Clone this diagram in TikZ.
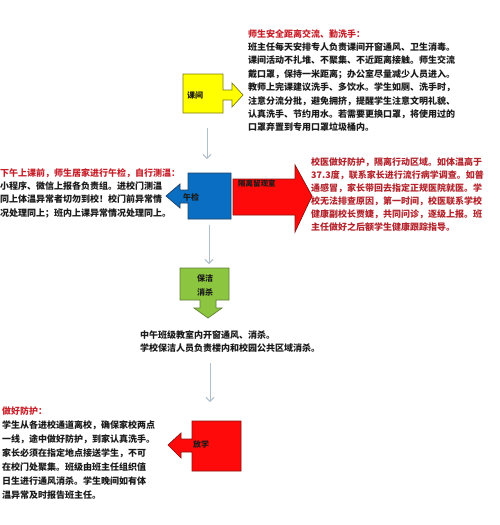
\documentclass[tikz,border=0pt]{standalone}
\usepackage{fontspec}
\setmainfont{Noto Sans CJK SC}
\usetikzlibrary{arrows.meta}
\definecolor{ttlred}{HTML}{C8202A}
\definecolor{bodyred}{HTML}{B4232B}
\definecolor{txt}{HTML}{1A1A1A}
\definecolor{conncol}{HTML}{AFC0CC}
\definecolor{yel}{HTML}{FFFF00}
\definecolor{yeldark}{HTML}{7A7A10}
\definecolor{blu}{HTML}{0A6FC2}
\definecolor{bludark}{HTML}{1F3F66}
\definecolor{rd}{HTML}{FF0A0A}
\definecolor{rddark}{HTML}{8A1010}
\definecolor{grn}{HTML}{8CC640}
\definecolor{grndark}{HTML}{5E7F35}
\tikzset{
  conn/.style={draw=conncol, line width=0.9pt, -{Straight Barb[length=4pt,width=8pt]}},
  para/.style={anchor=north west, align=left, inner sep=0pt, font=\fontsize{9}{13.4}\selectfont\bfseries, text=txt},
  lbl/.style={inner sep=0pt, font=\fontsize{8}{13}\selectfont\bfseries, text=txt},
  shapeline/.style={line width=0.7pt, line join=miter}
}
\begin{document}
\begin{tikzpicture}[x=1pt,y=-1pt]
\useasboundingbox[fill=white] (0,0) rectangle (499,525);

% yellow: break
\draw[shapeline, fill=yel, draw=yeldark] (183,74) -- (223,74) -- (223,90) -- (232,90) -- (232,83) -- (243,95) -- (232,107) -- (232,100) -- (223,100) -- (223,113) -- (183,113) -- cycle;
\node[lbl, anchor=west] (kj) at (187,95) {课间};

% blue: noon check
\draw[shapeline, fill=blu, draw=bludark] (188,173) -- (231,173) -- (231,219) -- (188,219) -- (188,203) -- (180,203) -- (180,208) -- (166,196) -- (180,184) -- (180,190) -- (188,190) -- cycle;
\node[lbl, anchor=west] (wj) at (183,197) {午检};

% red big arrow
\draw[shapeline, fill=rd, draw=rddark] (233,179) -- (295,179) -- (295,165) -- (312,196) -- (295,232) -- (295,215) -- (233,215) -- cycle;
\node[lbl, anchor=west, font=\fontsize{7.5}{10}\selectfont\bfseries] (glg) at (238,184) {隔离留观室};

% green
\draw[shapeline, fill=grn, draw=grndark] (180,268) -- (229,268) -- (229,300) -- (216,300) -- (216,308) -- (222,308) -- (208,318) -- (194,308) -- (200,308) -- (200,300) -- (180,300) -- cycle;
\node[lbl, align=center, font=\fontsize{8}{14}\selectfont\bfseries] (bj) at (205,285) {保洁\\消杀};

% red box: after school
\draw[shapeline, fill=rd, draw=rddark] (192,421) -- (241,421) -- (241,471) -- (192,471) -- (192,452) -- (181,452) -- (181,458) -- (168,445) -- (181,433) -- (181,439) -- (192,439) -- cycle;
\node[lbl, anchor=west] (fx) at (193,444) {放学};

% connectors
\coordinate (c1a) at (207,128); \coordinate (c1b) at (207,159);
\coordinate (c2a) at (209,225); \coordinate (c2b) at (209,264);
\coordinate (c3a) at (210,363); \coordinate (c3b) at (210,402);
\draw[conn] (c1a) -- (c1b);
\draw[conn] (c2a) -- (c2b);
\draw[conn] (c3a) -- (c3b);

% texts
\node[para] (t1) at (248,29) {{\color{ttlred}师生安全距离交流、勤洗手：}\\
班主任每天安排专人负责课间开窗通风、卫生消毒。\\
课间活动不扎堆、不聚集、不近距离接触。师生交流\\
戴口罩，保持一米距离；办公室尽量减少人员进入。\\
教师上完课建议洗手、多饮水。学生如厕、洗手时，\\
注意分流分批，避免拥挤，提醒学生注意文明礼貌、\\
认真洗手、节约用水。若需要更换口罩，将使用过的\\
口罩弃置到专用口罩垃圾桶内。};

\node[para] (t2) at (0,168) {{\color{ttlred}下午上课前，师生居家进行午检，自行测温：}\\
小程序、微信上报各负责组。进校门测温\\
同上体温异常者切勿到校！校门前异常情\\
况处理同上；班内上课异常情况处理同上。};

\node[para, text=bodyred, font=\fontsize{9}{13}\selectfont\bfseries] (t3) at (311,157) {校医做好防护，隔离行动区域。如体温高于\\
37.3度，联系家长进行流行病学调查。如普\\
通感冒，家长带回去指定正规医院就医。学\\
校无法排查原因，第一时间，校医联系学校\\
健康副校长贾婕，共同问诊，逐级上报。班\\
主任做好之后额学生健康跟踪指导。};

\node[para, font=\fontsize{9}{13}\selectfont\bfseries] (t4) at (140,330) {中午班级教室内开窗通风、消杀。\\
学校保洁人员负责楼内和校园公共区域消杀。};

\node[para, font=\fontsize{9}{14}\selectfont\bfseries] (t5) at (2,407) {{\color{ttlred}做好防护：}\\
学生从各进校通道离校，确保家校两点\\
一线，途中做好防护，到家认真洗手。\\
家长必须在指定地点接送学生，不可\\
在校门处聚集。班级由班主任组织值\\
日生进行通风消杀。学生晚间如有体\\
温异常及时报告班主任。};
\end{tikzpicture}
\end{document}
